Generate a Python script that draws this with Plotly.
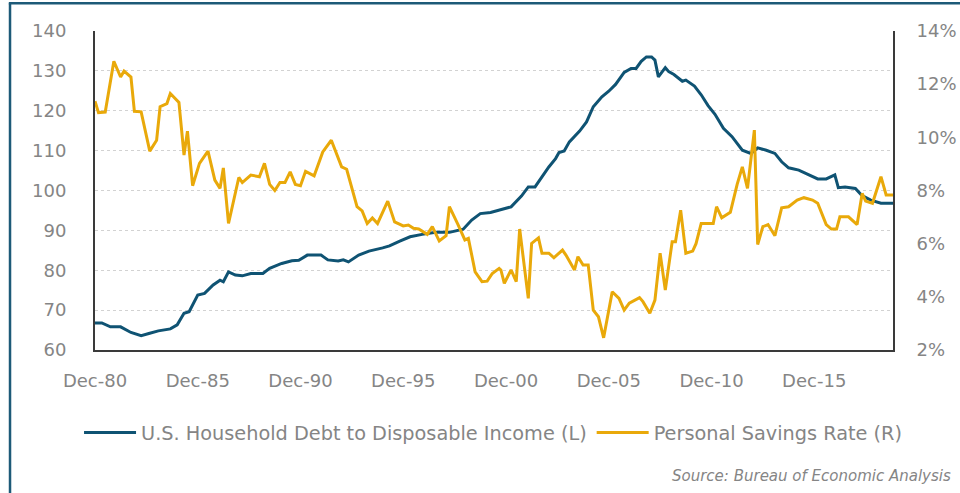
import plotly.graph_objects as go

# ---- data ----
debt_dates = ["1980-12", "1981-04", "1981-09", "1982-03", "1982-09", "1983-03", "1983-08", "1984-01",
              "1984-08", "1984-12", "1985-04", "1985-07", "1985-12", "1986-04", "1986-09", "1987-01",
              "1987-03", "1987-06", "1987-10", "1988-02", "1988-07", "1989-02", "1989-06", "1990-01",
              "1990-07", "1990-11", "1991-04", "1991-12", "1992-04", "1992-10", "1993-01", "1993-04",
              "1993-10", "1994-04", "1994-12", "1995-04", "1995-10", "1996-04", "1996-11", "1997-07",
              "1998-03", "1998-11", "1999-04", "1999-09", "2000-03", "2000-08", "2001-03", "2001-09",
              "2002-01", "2002-05", "2002-09", "2003-01", "2003-05", "2003-07", "2003-10", "2004-01",
              "2004-07", "2004-11", "2005-03", "2005-08", "2005-12", "2006-04", "2006-09", "2007-01",
              "2007-04", "2007-07", "2007-10", "2008-01", "2008-03", "2008-05", "2008-09", "2008-11",
              "2009-02", "2009-04", "2009-07", "2009-09", "2010-02", "2010-06", "2010-10", "2011-02",
              "2011-07", "2011-12", "2012-06", "2012-11", "2013-03", "2013-08", "2014-01", "2014-05",
              "2014-09", "2015-03", "2015-09", "2016-02", "2016-07", "2016-12", "2017-02", "2017-06",
              "2017-12", "2018-04", "2018-09", "2019-03", "2019-10"]
debt_values = [66.8, 66.8, 65.8, 65.8, 64.4, 63.6, 64.2, 64.8,
               65.3, 66.3, 69.2, 69.6, 73.8, 74.2, 76.3, 77.5,
               77.1, 79.6, 78.8, 78.6, 79.2, 79.2, 80.5, 81.7,
               82.4, 82.5, 83.8, 83.8, 82.6, 82.3, 82.6, 82.1,
               83.8, 84.8, 85.6, 86.1, 87.3, 88.4, 89.0, 89.5,
               89.5, 90.3, 92.6, 94.2, 94.5, 95.1, 95.9, 98.6,
               100.9, 100.9, 103.4, 105.9, 108.0, 109.5, 109.9, 112.2,
               114.9, 117.2, 121.0, 123.5, 124.9, 126.6, 129.6, 130.6,
               130.6, 132.4, 133.5, 133.5, 132.7, 128.5, 130.8, 129.8,
               129.1, 128.5, 127.4, 127.7, 126.2, 124.0, 121.3, 119.1,
               115.6, 113.5, 110.1, 109.3, 110.7, 110.1, 109.3, 107.2,
               105.7, 105.1, 103.9, 102.9, 102.9, 103.9, 100.7, 100.9,
               100.5, 98.7, 97.6, 96.8, 96.8]

save_dates = ["1980-12", "1981-02", "1981-06", "1981-11", "1982-03", "1982-05", "1982-09", "1982-11",
              "1983-03", "1983-08", "1983-12", "1984-02", "1984-06", "1984-08", "1985-01", "1985-04",
              "1985-06", "1985-09", "1986-01", "1986-06", "1986-10", "1987-01", "1987-03", "1987-06",
              "1987-12", "1988-02", "1988-07", "1988-12", "1989-03", "1989-06", "1989-09", "1989-12",
              "1990-03", "1990-06", "1990-09", "1990-12", "1991-03", "1991-08", "1992-01", "1992-06",
              "1992-12", "1993-03", "1993-09", "1993-12", "1994-03", "1994-06", "1994-09", "1995-03",
              "1995-07", "1995-12", "1996-03", "1996-06", "1996-09", "1997-02", "1997-05", "1997-09",
              "1998-01", "1998-03", "1998-08", "1998-12", "1999-02", "1999-06", "1999-10", "2000-01",
              "2000-04", "2000-08", "2000-09", "2000-11", "2001-03", "2001-06", "2001-08", "2002-01",
              "2002-03", "2002-07", "2002-09", "2003-01", "2003-04", "2003-09", "2003-11", "2004-04",
              "2004-06", "2004-09", "2004-12", "2005-03", "2005-06", "2005-09", "2006-02", "2006-06",
              "2006-09", "2006-12", "2007-06", "2007-08", "2007-12", "2008-03", "2008-06", "2008-09",
              "2009-01", "2009-03", "2009-06", "2009-09", "2010-01", "2010-03", "2010-06", "2010-10",
              "2011-01", "2011-03", "2011-06", "2011-11", "2012-03", "2012-06", "2012-09", "2013-01",
              "2013-03", "2013-06", "2013-09", "2014-01", "2014-05", "2014-09", "2015-02", "2015-06",
              "2015-11", "2016-02", "2016-07", "2016-10", "2017-01", "2017-03", "2017-08", "2018-01",
              "2018-04", "2018-06", "2018-10", "2019-03", "2019-06", "2019-10"]
save_values = [11.36, 10.93, 10.95, 12.86, 12.27, 12.49, 12.27, 10.98,
               10.96, 9.48, 9.89, 11.15, 11.27, 11.65, 11.31, 9.33,
               10.23, 8.18, 9.02, 9.48, 8.39, 8.08, 8.85, 6.76,
               8.49, 8.30, 8.58, 8.52, 9.02, 8.23, 8.00, 8.30,
               8.30, 8.70, 8.23, 8.18, 8.72, 8.55, 9.45, 9.89,
               8.89, 8.80, 7.39, 7.23, 6.76, 6.97, 6.76, 7.60,
               6.82, 6.67, 6.70, 6.58, 6.55, 6.35, 6.64, 6.10,
               6.30, 7.39, 6.72, 6.14, 6.20, 4.94, 4.57, 4.59,
               4.88, 5.07, 5.01, 4.51, 5.01, 4.57, 6.55, 3.94,
               6.01, 6.22, 5.64, 5.64, 5.47, 5.76, 5.57, 5.01,
               5.51, 5.20, 5.20, 3.50, 3.25, 2.46, 4.19, 3.94,
               3.50, 3.76, 3.97, 3.82, 3.38, 3.88, 5.64, 4.26,
               6.07, 6.07, 7.26, 5.64, 5.72, 6.00, 6.76, 6.76,
               6.76, 7.39, 6.97, 7.18, 8.23, 8.89, 8.08, 10.27,
               5.97, 6.64, 6.72, 6.30, 7.35, 7.39, 7.64, 7.73,
               7.64, 7.52, 6.72, 6.55, 6.55, 7.01, 7.01, 6.72,
               7.89, 7.60, 7.52, 8.52, 7.83, 7.83]

tick_dates = ["1980-12-01", "1985-12-01", "1990-12-01", "1995-12-01",
              "2000-12-01", "2005-12-01", "2010-12-01", "2015-12-01"]
tick_labels = ["Dec-80", "Dec-85", "Dec-90", "Dec-95", "Dec-00", "Dec-05", "Dec-10", "Dec-15"]

BLUE = "#0f5373"
GOLD = "#e9a90a"
TXT = "#858585"
FONT = "DejaVu Sans"

fig = go.Figure()
fig.add_trace(go.Scatter(x=debt_dates, y=debt_values, mode="lines",
                         name="U.S. Household Debt to Disposable Income (L)",
                         line=dict(color=BLUE, width=3)))
fig.add_trace(go.Scatter(x=save_dates, y=save_values, mode="lines", yaxis="y2",
                         name="Personal Savings Rate (R)",
                         line=dict(color=GOLD, width=3)))

fig.update_layout(
    width=960, height=493,
    margin=dict(l=95, r=67, t=31, b=143, autoexpand=False),
    paper_bgcolor="white", plot_bgcolor="white",
    font=dict(family=FONT, size=18, color=TXT),
    showlegend=True,
    legend=dict(orientation="h", x=-0.02, xanchor="left",
                y=-0.26, yanchor="middle",
                font=dict(size=19.3, color=TXT), itemwidth=52, traceorder="normal"),
    xaxis=dict(type="date", range=["1980-12-01", "2019-10-01"],
               tickvals=tick_dates, ticktext=tick_labels, automargin=False,
               showgrid=False, zeroline=False,
               showline=True, linecolor="#3a3a3a", linewidth=2,
               ticks="outside", ticklen=13, tickcolor="rgba(0,0,0,0)"),
    yaxis=dict(range=[60, 140], dtick=10, showgrid=True, gridcolor="#d2d2d2",
               griddash="dot", gridwidth=1, zeroline=False, automargin=False,
               showline=True, linecolor="#3a3a3a", linewidth=2,
               ticks="outside", ticklen=23, tickcolor="rgba(0,0,0,0)"),
    yaxis2=dict(range=[2, 14], dtick=2, ticksuffix="%", overlaying="y", side="right",
                showgrid=False, zeroline=False, automargin=False,
                showline=True, linecolor="#3a3a3a", linewidth=2,
                ticks="outside", ticklen=18, tickcolor="rgba(0,0,0,0)"),
    annotations=[dict(text="<i>Source: Bureau of Economic Analysis</i>",
                      xref="paper", yref="paper", x=1.075, y=-0.395,
                      xanchor="right", yanchor="middle", showarrow=False,
                      font=dict(size=15, color=TXT, family=FONT))],
    shapes=[
        dict(type="line", xref="paper", yref="paper", x0=-0.1065, x1=-0.1065, y0=1.087, y1=-0.46,
             line=dict(color="#1d5a78", width=2.5)),
        dict(type="line", xref="paper", yref="paper", x0=-0.108, x1=1.09, y0=1.087, y1=1.087,
             line=dict(color="#1d5a78", width=2.5)),
    ],
)

fig.write_html("out.html", config={"displayModeBar": False},
               post_script="document.body.style.margin='0';document.body.style.overflow='hidden';")
